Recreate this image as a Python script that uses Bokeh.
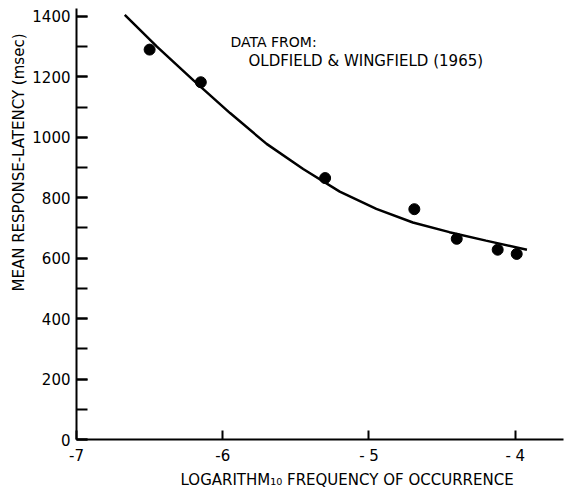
import math
from bokeh.plotting import figure
from bokeh.models import Range1d, SingleIntervalTicker, FixedTicker, Label, Title
from bokeh.embed import file_html
from bokeh.resources import INLINE

# Observed data points (Oldfield & Wingfield, 1965)
log_freq = [-6.50, -6.15, -5.30, -4.69, -4.40, -4.12, -3.99]
latency = [1290, 1182, 865, 762, 664, 628, 614]

# Fitted curve
curve_x = [-6.67, -6.45, -6.20, -5.95, -5.70, -5.45, -5.20, -4.95, -4.70, -4.45, -4.20, -3.92]
curve_y = [1405, 1300, 1188, 1080, 978, 895, 820, 763, 718, 686, 658, 628]

x_ticks = [-7, -6, -5, -4]
x_tick_labels = {-7: "-7", -6: "-6", -5: "- 5", -4: "- 4"}

FONT = "DejaVu Sans"

p = figure(width=566, height=490, output_backend="svg", toolbar_location=None,
           x_range=Range1d(-7, -3.67), y_range=Range1d(0, 1426),
           min_border_left=76, min_border_right=3, min_border_top=8, min_border_bottom=49)
p.outline_line_color = None
p.grid.visible = False
p.background_fill_color = "white"
p.border_fill_color = "white"

p.line(curve_x, curve_y, line_color="black", line_width=2.5)
p.scatter(log_freq, latency, size=11, fill_color="black", line_color="black")

xa = p.xaxis[0]
xa.ticker = FixedTicker(ticks=x_ticks)
xa.major_label_overrides = x_tick_labels
xa.major_tick_in = 9
xa.major_tick_out = 0
xa.minor_tick_line_color = None
xa.axis_line_width = 2
xa.major_tick_line_width = 2
xa.major_label_standoff = 7
xa.major_label_text_font = FONT
xa.major_label_text_font_size = "15px"
xa.major_label_text_color = "black"

ya = p.yaxis[0]
ya.ticker = SingleIntervalTicker(interval=200, num_minor_ticks=2)
ya.major_tick_in = 11
ya.major_tick_out = 0
ya.minor_tick_in = 11
ya.minor_tick_out = 0
ya.axis_line_width = 2
ya.major_tick_line_width = 2
ya.minor_tick_line_width = 2
ya.minor_tick_line_color = "black"
ya.major_label_standoff = 6
ya.major_label_text_font = FONT
ya.major_label_text_font_size = "15px"
ya.major_label_text_color = "black"

p.add_layout(Title(text="MEAN RESPONSE-LATENCY (msec)", align="left", offset=148,
                   text_font=FONT, text_font_size="15px", text_font_style="normal",
                   text_color="black", standoff=4), "left")
p.add_layout(Title(text="LOGARITHM₁₀ FREQUENCY OF OCCURRENCE", align="left", offset=104,
                   text_font=FONT, text_font_size="15px", text_font_style="normal",
                   text_color="black", standoff=3), "below")

label_style = dict(x_units="screen", y_units="screen", text_font=FONT, text_color="black")
p.add_layout(Label(x=154, y=398, text="DATA FROM:", text_align="left", text_baseline="middle",
                   text_font_size="14px", **label_style))
p.add_layout(Label(x=172, y=379, text="OLDFIELD & WINGFIELD (1965)", text_align="left",
                   text_baseline="middle", text_font_size="15px", **label_style))

open("out.html", "w").write(file_html(p, INLINE))
